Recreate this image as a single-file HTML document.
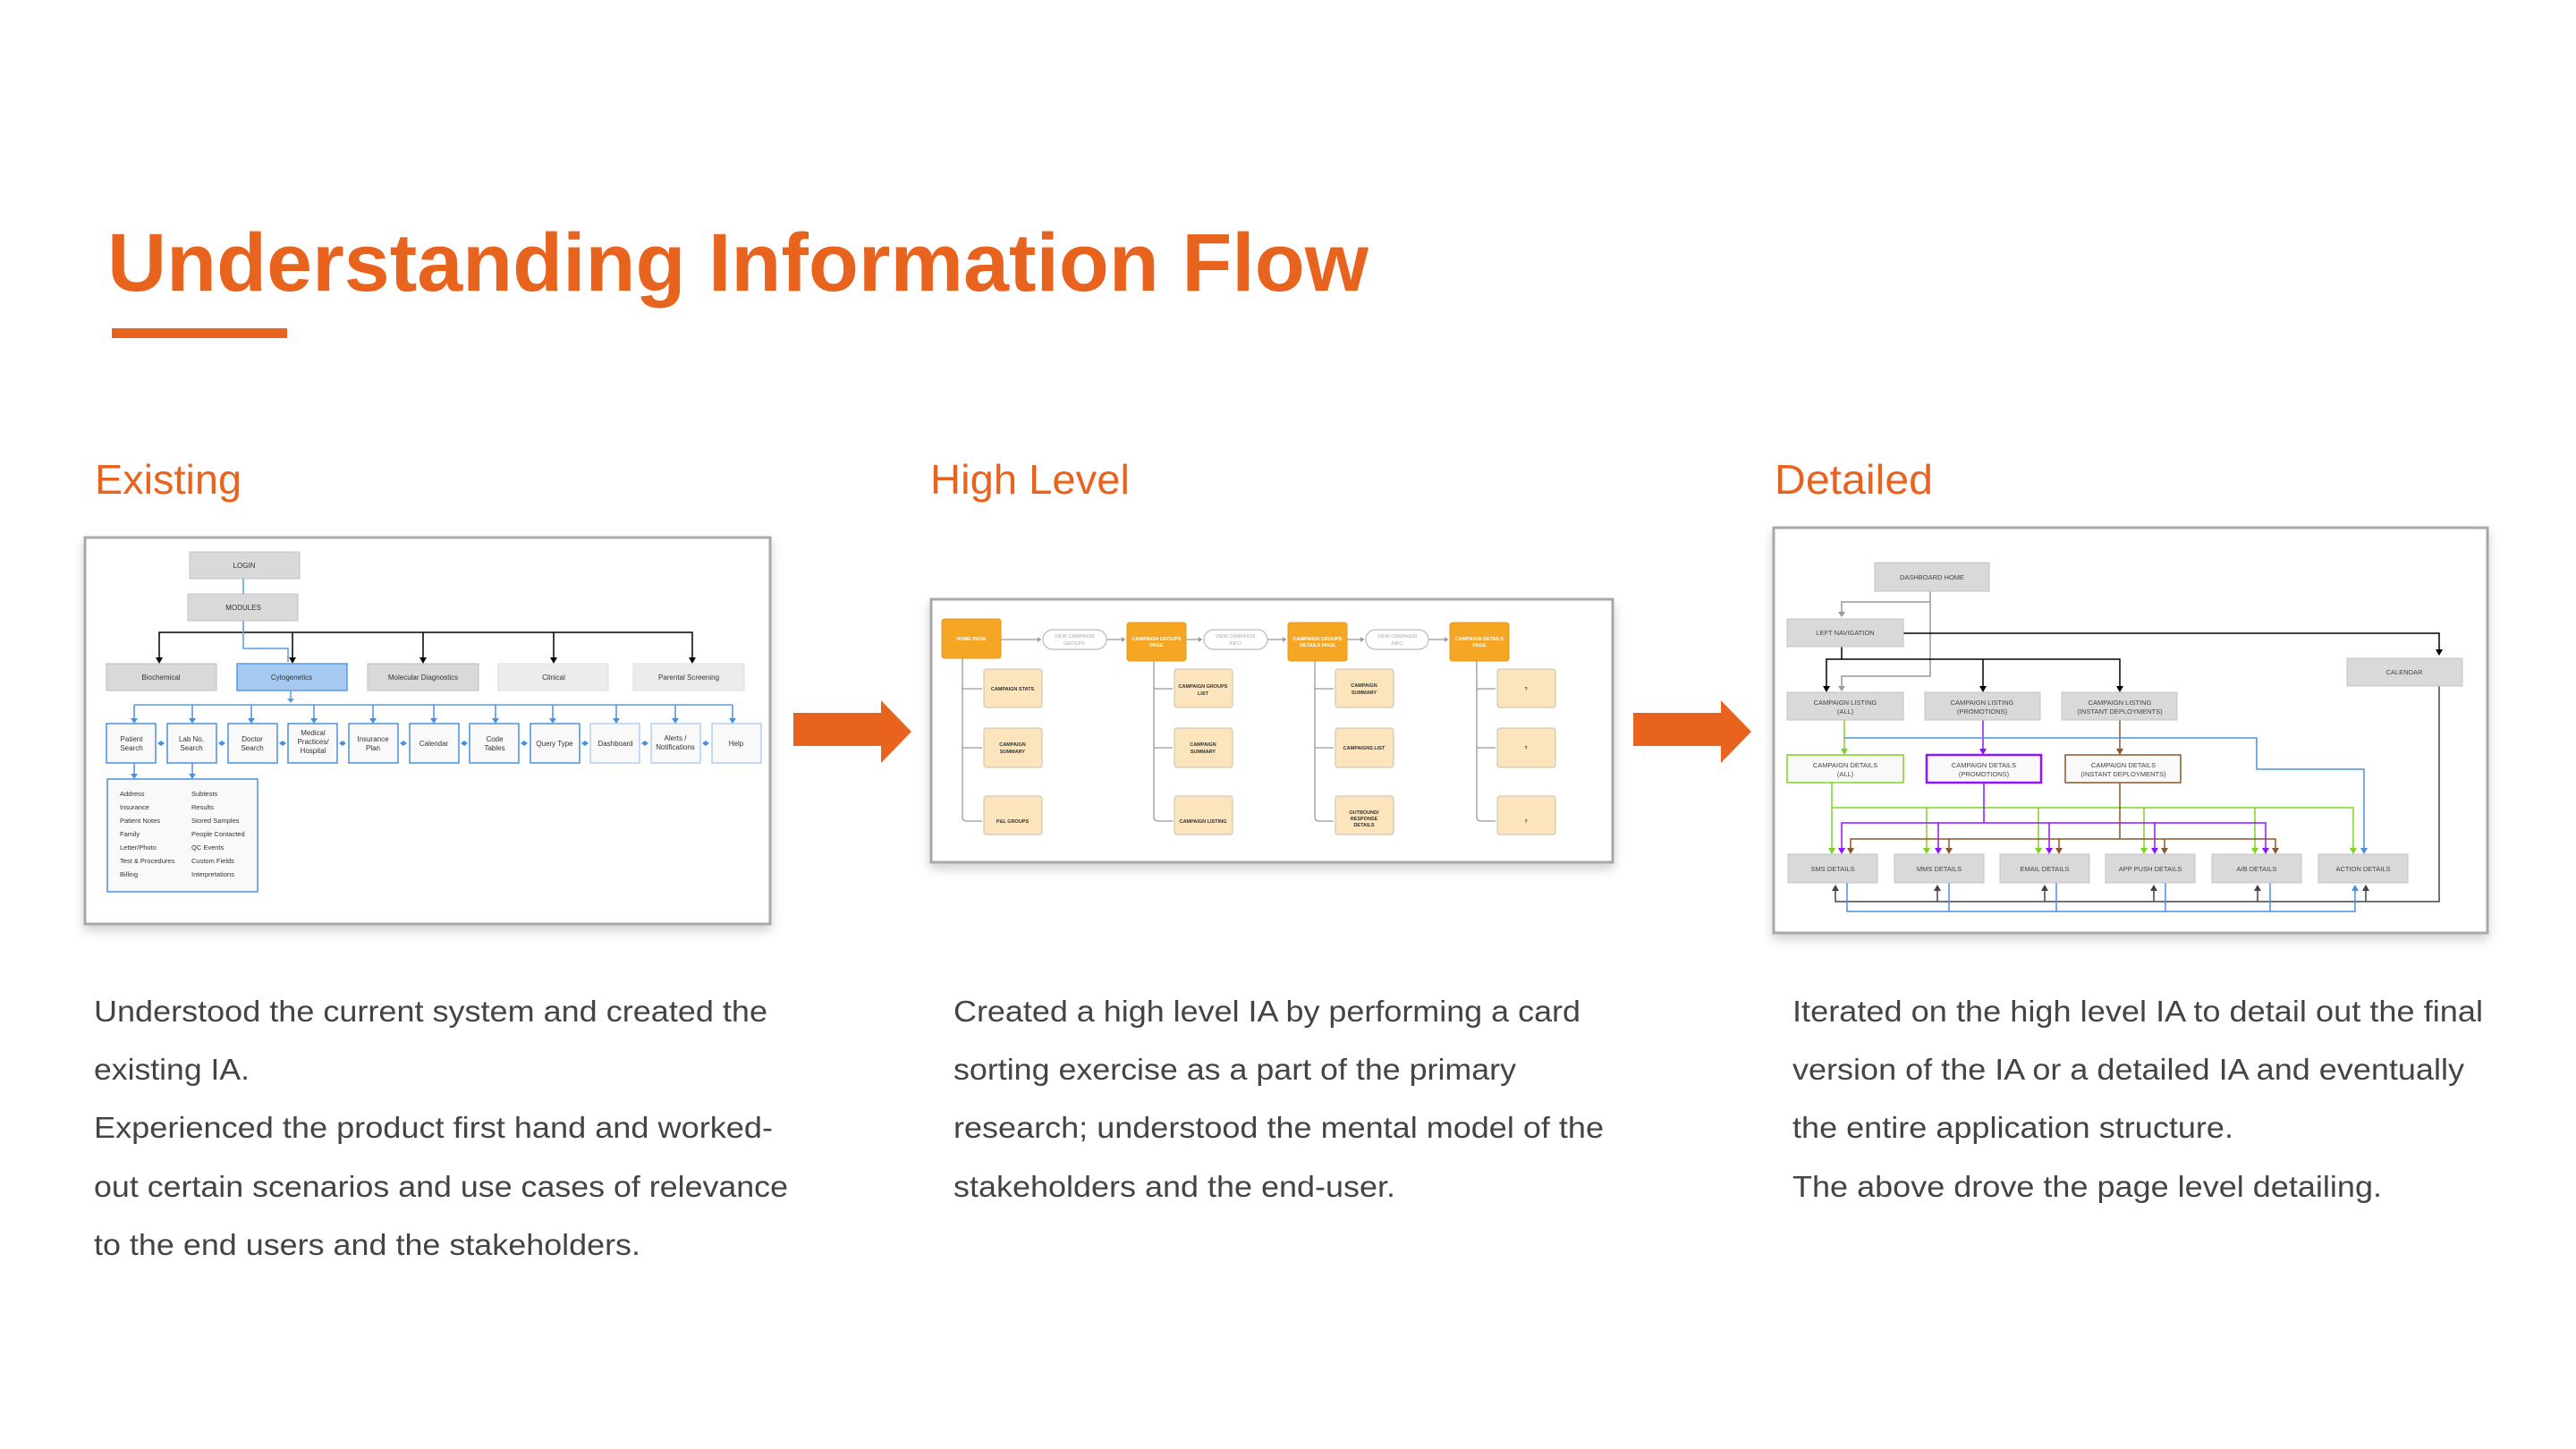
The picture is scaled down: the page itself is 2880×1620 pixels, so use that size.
<!DOCTYPE html>
<html><head><meta charset="utf-8"><style>
html,body{margin:0;padding:0;background:#fff;width:2880px;height:1620px;overflow:hidden}
svg{display:block}
.t{font-family:"Liberation Sans",sans-serif}
</style></head><body>
<svg width="2880" height="1620" viewBox="0 0 2880 1620" xmlns="http://www.w3.org/2000/svg" class="t">
<defs>
<filter id="sh" x="-5%" y="-5%" width="110%" height="115%"><feDropShadow dx="0" dy="6" stdDeviation="6" flood-color="#000" flood-opacity="0.18"/></filter>
</defs>

<text x="120" y="325" font-size="92" font-weight="bold" fill="#E8631E" textLength="1410" lengthAdjust="spacingAndGlyphs">Understanding Information Flow</text>
<rect x="125" y="367" width="196" height="11" fill="#E8631E"/>

<text x="106" y="552" font-size="46" fill="#E8631E" textLength="164" lengthAdjust="spacingAndGlyphs">Existing</text>
<text x="1040" y="552" font-size="46" fill="#E8631E" textLength="223" lengthAdjust="spacingAndGlyphs">High Level</text>
<text x="1984" y="552" font-size="46" fill="#E8631E" textLength="177" lengthAdjust="spacingAndGlyphs">Detailed</text>

<g font-size="33" fill="#444" transform="translate(0,-4)">
<text x="105" y="1146" textLength="753" lengthAdjust="spacingAndGlyphs">Understood the current system and created the</text>
<text x="105" y="1211" textLength="174" lengthAdjust="spacingAndGlyphs">existing IA.</text>
<text x="105" y="1276" textLength="759" lengthAdjust="spacingAndGlyphs">Experienced the product first hand and worked-</text>
<text x="105" y="1342" textLength="776" lengthAdjust="spacingAndGlyphs">out certain scenarios and use cases of relevance</text>
<text x="105" y="1407" textLength="611" lengthAdjust="spacingAndGlyphs">to the end users and the stakeholders.</text>
<text x="1066" y="1146" textLength="701" lengthAdjust="spacingAndGlyphs">Created a high level IA by performing a card</text>
<text x="1066" y="1211" textLength="629" lengthAdjust="spacingAndGlyphs">sorting exercise as a part of the primary</text>
<text x="1066" y="1276" textLength="727" lengthAdjust="spacingAndGlyphs">research; understood the mental model of the</text>
<text x="1066" y="1342" textLength="494" lengthAdjust="spacingAndGlyphs">stakeholders and the end-user.</text>
<text x="2004" y="1146" textLength="772" lengthAdjust="spacingAndGlyphs">Iterated on the high level IA to detail out the final</text>
<text x="2004" y="1211" textLength="751" lengthAdjust="spacingAndGlyphs">version of the IA or a detailed IA and eventually</text>
<text x="2004" y="1276" textLength="493" lengthAdjust="spacingAndGlyphs">the entire application structure.</text>
<text x="2004" y="1342" textLength="659" lengthAdjust="spacingAndGlyphs">The above drove the page level detailing.</text>
</g>

<path d="M887,797 L985,797 L985,783 L1019,818 L985,853 L985,834 L887,834 Z" fill="#E8631E"/>
<path d="M1826,797 L1924,797 L1924,783 L1958,818 L1924,853 L1924,834 L1826,834 Z" fill="#E8631E"/>

<!-- ===== EXISTING ===== -->
<rect x="95" y="601" width="766" height="432" fill="#fff" stroke="#a9a9a9" stroke-width="3" filter="url(#sh)"/>
<g font-size="8" text-anchor="middle" fill="#333">
<rect x="212" y="617" width="123" height="30" fill="#d9d9d9" stroke="#c4c4c4"/><text x="273" y="635">LOGIN</text>
<rect x="210" y="664" width="123" height="30" fill="#d9d9d9" stroke="#c4c4c4"/><text x="272" y="682">MODULES</text>
<line x1="272" y1="647" x2="272" y2="664" stroke="#5b9be6" stroke-width="1.5"/>
<path d="M178,736 V707 H774 V736" fill="none" stroke="#000" stroke-width="1.5"/>
<g stroke="#000" stroke-width="1.5"><line x1="327" y1="707" x2="327" y2="736"/><line x1="473" y1="707" x2="473" y2="736"/><line x1="619" y1="707" x2="619" y2="736"/></g>
<g fill="#000"><path d="M174,735 h8 l-4,7z"/><path d="M323,735 h8 l-4,7z"/><path d="M469,735 h8 l-4,7z"/><path d="M615,735 h8 l-4,7z"/><path d="M770,735 h8 l-4,7z"/></g>
<path d="M272,694 V725 H322 V740" fill="none" stroke="#5b9be6" stroke-width="1.5"/>
<rect x="119" y="742" width="123" height="30" fill="#d9d9d9" stroke="#bdbdbd"/><text x="180" y="760">Biochemical</text>
<rect x="265" y="742" width="123" height="30" fill="#a5c9f0" stroke="#5b9be6" stroke-width="1.5"/><text x="326" y="760">Cytogenetics</text>
<rect x="411" y="742" width="124" height="30" fill="#d9d9d9" stroke="#bdbdbd"/><text x="473" y="760">Molecular Diagnostics</text>
<rect x="557" y="742" width="123" height="30" fill="#ececec" stroke="#dcdcdc"/><text x="619" y="760">Clinical</text>
<rect x="708" y="742" width="124" height="30" fill="#ececec" stroke="#dcdcdc"/><text x="770" y="760">Parental Screening</text>
<line x1="325" y1="772" x2="325" y2="783" stroke="#5b9be6" stroke-width="1.5"/><path d="M321,781 h8 l-4,5z" fill="#5b9be6"/>
<line x1="150" y1="788" x2="819" y2="788" stroke="#5b9be6" stroke-width="1.5"/>
</g>
<g font-size="8" text-anchor="middle" fill="#333">
<g stroke="#4a90e2" stroke-width="1.5" fill="#f9f9f9">
<rect x="119" y="809" width="55" height="44"/><rect x="187" y="809" width="55" height="44"/><rect x="255" y="809" width="55" height="44"/><rect x="322" y="809" width="55" height="44"/><rect x="390" y="809" width="55" height="44"/><rect x="458" y="809" width="55" height="44"/><rect x="525" y="809" width="55" height="44"/><rect x="593" y="809" width="55" height="44"/>
</g>
<g stroke="#b3d0f2" stroke-width="1.5" fill="#f9f9f9">
<rect x="660" y="809" width="55" height="44"/><rect x="728" y="809" width="55" height="44"/><rect x="796" y="809" width="55" height="44"/>
</g>
<g stroke="#4a90e2" stroke-width="1.5">
<line x1="150" y1="788" x2="150" y2="804"/><line x1="215" y1="788" x2="215" y2="804"/><line x1="281" y1="788" x2="281" y2="804"/><line x1="351" y1="788" x2="351" y2="804"/><line x1="417" y1="788" x2="417" y2="804"/><line x1="485" y1="788" x2="485" y2="804"/><line x1="554" y1="788" x2="554" y2="804"/><line x1="618" y1="788" x2="618" y2="804"/><line x1="689" y1="788" x2="689" y2="804"/><line x1="755" y1="788" x2="755" y2="804"/><line x1="819" y1="788" x2="819" y2="804"/>
<line x1="150" y1="853" x2="150" y2="866"/><line x1="215" y1="853" x2="215" y2="866"/>
</g>
<g fill="#4a90e2">
<path d="M146,803 h8 l-4,6z"/><path d="M211,803 h8 l-4,6z"/><path d="M277,803 h8 l-4,6z"/><path d="M347,803 h8 l-4,6z"/><path d="M413,803 h8 l-4,6z"/><path d="M481,803 h8 l-4,6z"/><path d="M550,803 h8 l-4,6z"/><path d="M614,803 h8 l-4,6z"/><path d="M685,803 h8 l-4,6z"/><path d="M751,803 h8 l-4,6z"/><path d="M815,803 h8 l-4,6z"/>
<path d="M146,865 h8 l-4,6z"/><path d="M211,865 h8 l-4,6z"/>
<path d="M176,831 l4,-3 l4,3 l-4,3z"/><path d="M244,831 l4,-3 l4,3 l-4,3z"/><path d="M312,831 l4,-3 l4,3 l-4,3z"/><path d="M379,831 l4,-3 l4,3 l-4,3z"/><path d="M447,831 l4,-3 l4,3 l-4,3z"/><path d="M515,831 l4,-3 l4,3 l-4,3z"/><path d="M582,831 l4,-3 l4,3 l-4,3z"/><path d="M650,831 l4,-3 l4,3 l-4,3z"/><path d="M717,831 l4,-3 l4,3 l-4,3z"/><path d="M785,831 l4,-3 l4,3 l-4,3z"/>
</g>
<text x="147" y="829">Patient</text><text x="147" y="839">Search</text>
<text x="214" y="829">Lab No.</text><text x="214" y="839">Search</text>
<text x="282" y="829">Doctor</text><text x="282" y="839">Search</text>
<text x="350" y="822">Medical</text><text x="350" y="832">Practices/</text><text x="350" y="842">Hospital</text>
<text x="417" y="829">Insurance</text><text x="417" y="839">Plan</text>
<text x="485" y="834">Calendar</text>
<text x="553" y="829">Code</text><text x="553" y="839">Tables</text>
<text x="620" y="834">Query Type</text>
<text x="688" y="834">Dashboard</text>
<text x="755" y="828">Alerts /</text><text x="755" y="838">Notifications</text>
<text x="823" y="834">Help</text>
</g>
<rect x="120" y="871" width="168" height="126" fill="#f9f9f9" stroke="#4a90e2" stroke-width="1.5"/>
<g font-size="7.5" fill="#333">
<text x="134" y="890">Address</text><text x="134" y="905">Insurance</text><text x="134" y="920">Patient Notes</text><text x="134" y="935">Family</text><text x="134" y="950">Letter/Photo</text><text x="134" y="965">Test &amp; Procedures</text><text x="134" y="980">Billing</text>
<text x="214" y="890">Subtests</text><text x="214" y="905">Results</text><text x="214" y="920">Stored Samples</text><text x="214" y="935">People Contacted</text><text x="214" y="950">QC Events</text><text x="214" y="965">Custom Fields</text><text x="214" y="980">Interpretations</text>
</g>

<!-- ===== HIGH LEVEL ===== -->
<g transform="translate(-5,0)">
<rect x="1046" y="670" width="762" height="294" fill="#fff" stroke="#a9a9a9" stroke-width="3" filter="url(#sh)"/>
<g stroke="#999" stroke-width="1.3" fill="none">
<path d="M1081,736 V913 q0,5 5,5 H1103"/><line x1="1081" y1="770" x2="1103" y2="770"/><line x1="1081" y1="836" x2="1103" y2="836"/>
<path d="M1295,739 V913 q0,5 5,5 H1316"/><line x1="1295" y1="770" x2="1316" y2="770"/><line x1="1295" y1="836" x2="1316" y2="836"/>
<path d="M1475,739 V913 q0,5 5,5 H1496"/><line x1="1475" y1="770" x2="1496" y2="770"/><line x1="1475" y1="836" x2="1496" y2="836"/>
<path d="M1656,739 V913 q0,5 5,5 H1677"/><line x1="1656" y1="770" x2="1677" y2="770"/><line x1="1656" y1="836" x2="1677" y2="836"/>
<line x1="1124" y1="715" x2="1169" y2="715"/><line x1="1242" y1="715" x2="1263" y2="715"/>
<line x1="1331" y1="715" x2="1349" y2="715"/><line x1="1422" y1="715" x2="1443" y2="715"/>
<line x1="1511" y1="715" x2="1530" y2="715"/><line x1="1602" y1="715" x2="1624" y2="715"/>
</g>
<g fill="#999">
<path d="M1165,712 l4,3 l-4,3z"/><path d="M1259,712 l4,3 l-4,3z"/><path d="M1345,712 l4,3 l-4,3z"/><path d="M1439,712 l4,3 l-4,3z"/><path d="M1526,712 l4,3 l-4,3z"/><path d="M1620,712 l4,3 l-4,3z"/>
</g>
<g fill="#F5A623" stroke="#e59a1c">
<rect x="1058" y="692" width="66" height="44" rx="3"/><rect x="1265" y="696" width="66" height="43" rx="3"/><rect x="1445" y="696" width="66" height="43" rx="3"/><rect x="1626" y="696" width="66" height="43" rx="3"/>
</g>
<g fill="#fff" stroke="#bbb" stroke-width="1.2">
<rect x="1171" y="704" width="71" height="22" rx="11"/><rect x="1351" y="704" width="71" height="22" rx="11"/><rect x="1532" y="704" width="70" height="22" rx="11"/>
</g>
<g fill="#FCE4BC" stroke="#c9c0b0" stroke-width="1">
<rect x="1105" y="748" width="65" height="43" rx="3"/><rect x="1105" y="814" width="65" height="44" rx="3"/><rect x="1105" y="890" width="65" height="43" rx="3"/>
<rect x="1318" y="748" width="65" height="43" rx="3"/><rect x="1318" y="814" width="65" height="44" rx="3"/><rect x="1318" y="890" width="65" height="43" rx="3"/>
<rect x="1498" y="748" width="65" height="43" rx="3"/><rect x="1498" y="814" width="65" height="44" rx="3"/><rect x="1498" y="890" width="65" height="43" rx="3"/>
<rect x="1679" y="748" width="65" height="43" rx="3"/><rect x="1679" y="814" width="65" height="44" rx="3"/><rect x="1679" y="890" width="65" height="43" rx="3"/>
</g>
<g font-size="5.5" font-weight="bold" text-anchor="middle" fill="#fff">
<text x="1091" y="716">HOME PAGE</text>
<text x="1298" y="716">CAMPAIGN GROUPS</text><text x="1298" y="723">PAGE</text>
<text x="1478" y="716">CAMPAIGN GROUPS</text><text x="1478" y="723">DETAILS PAGE</text>
<text x="1659" y="716">CAMPAIGN DETAILS</text><text x="1659" y="723">PAGE</text>
</g>
<g font-size="5.5" text-anchor="middle" fill="#aaa">
<text x="1206" y="713">VIEW CAMPAIGN</text><text x="1206" y="721">GROUPS</text>
<text x="1386" y="713">VIEW CAMPAIGN</text><text x="1386" y="721">INFO</text>
<text x="1567" y="713">VIEW CAMPAIGN</text><text x="1567" y="721">INFO</text>
</g>
<g font-size="5.5" font-weight="bold" text-anchor="middle" fill="#333">
<text x="1137" y="772">CAMPAIGN STATS</text>
<text x="1137" y="834">CAMPAIGN</text><text x="1137" y="842">SUMMARY</text>
<text x="1137" y="920">P&amp;L GROUPS</text>
<text x="1350" y="769">CAMPAIGN GROUPS</text><text x="1350" y="777">LIST</text>
<text x="1350" y="834">CAMPAIGN</text><text x="1350" y="842">SUMMARY</text>
<text x="1350" y="920">CAMPAIGN LISTING</text>
<text x="1530" y="768">CAMPAIGN</text><text x="1530" y="776">SUMMARY</text>
<text x="1530" y="838">CAMPAIGNS LIST</text>
<text x="1530" y="910">OUTBOUND/</text><text x="1530" y="917">RESPONSE</text><text x="1530" y="924">DETAILS</text>
<text x="1711" y="772">?</text><text x="1711" y="838">?</text><text x="1711" y="920">?</text>
</g>
</g>

<!-- ===== DETAILED ===== -->
<g transform="translate(-10,0)">
<rect x="1993" y="590" width="798" height="453" fill="#fff" stroke="#a9a9a9" stroke-width="3" filter="url(#sh)"/>
<g fill="none" stroke-width="1.5">
<path d="M2168,661 V756 H2069 V768" stroke="#999"/>
<path d="M2168,673 H2069 V684" stroke="#999"/>
<path d="M2138,708 H2737 V727" stroke="#000"/>
<path d="M2069,723 V737 M2052,768 V737 H2380 V768 M2227,737 V768" stroke="#000"/>
<path d="M2737,767 V1008 H2062 V995 M2176,1008 V995 M2296,1008 V995 M2418,1008 V995 M2534,1008 V995 M2655,1008 V995" stroke="#444"/>
<path d="M2072,805 V838" stroke="#7ed321"/>
<path d="M2227,805 V838" stroke="#9013fe"/>
<path d="M2380,805 V838" stroke="#8b572a"/>
<path d="M2072,825 H2533 V860 H2653 V948" stroke="#4a90e2"/>
<path d="M2058,875 V949 M2058,903 H2641 V949 M2164,903 V949 M2289,903 V949 M2407,903 V949 M2531,903 V949" stroke="#7ed321"/>
<path d="M2228,875 V920 M2069,949 V920 H2543 V949 M2177,920 V949 M2301,920 V949 M2419,920 V949" stroke="#9013fe"/>
<path d="M2380,875 V938 M2079,949 V938 H2554 V949 M2189,938 V949 M2312,938 V949 M2430,938 V949" stroke="#8b572a"/>
<path d="M2075,987 V1019 H2643 V995 M2189,987 V1019 M2309,987 V1019 M2431,987 V1019 M2548,987 V1019" stroke="#4a90e2"/>
</g>
<g>
<path d="M2065,684 h8 l-4,6z M2065,767 h8 l-4,6z" fill="#999"/>
<path d="M2733,726 h8 l-4,7z M2048,767 h8 l-4,7z M2223,767 h8 l-4,7z M2376,767 h8 l-4,7z" fill="#000"/>
<path d="M2068,837 h8 l-4,7z M2054,948 h8 l-4,7z M2160,948 h8 l-4,7z M2285,948 h8 l-4,7z M2403,948 h8 l-4,7z M2527,948 h8 l-4,7z M2637,948 h8 l-4,7z" fill="#7ed321"/>
<path d="M2223,837 h8 l-4,7z M2065,948 h8 l-4,7z M2173,948 h8 l-4,7z M2297,948 h8 l-4,7z M2415,948 h8 l-4,7z M2539,948 h8 l-4,7z" fill="#9013fe"/>
<path d="M2376,837 h8 l-4,7z M2075,948 h8 l-4,7z M2185,948 h8 l-4,7z M2308,948 h8 l-4,7z M2426,948 h8 l-4,7z M2550,948 h8 l-4,7z" fill="#8b572a"/>
<path d="M2649,948 h8 l-4,7z M2639,996 h8 l-4,-7z" fill="#4a90e2"/>
<path d="M2058,996 h8 l-4,-7z M2172,996 h8 l-4,-7z M2292,996 h8 l-4,-7z M2414,996 h8 l-4,-7z M2530,996 h8 l-4,-7z M2651,996 h8 l-4,-7z" fill="#444"/>
</g>
<g fill="#d9d9d9" stroke="#c4c4c4">
<rect x="2106" y="629" width="128" height="32"/><rect x="2008" y="692" width="130" height="31"/><rect x="2634" y="736" width="129" height="31"/>
<rect x="2008" y="774" width="130" height="31"/><rect x="2162" y="774" width="129" height="31"/><rect x="2315" y="774" width="129" height="31"/>
<rect x="2009" y="955" width="100" height="32"/><rect x="2128" y="955" width="100" height="32"/><rect x="2246" y="955" width="100" height="32"/><rect x="2364" y="955" width="100" height="32"/><rect x="2483" y="955" width="100" height="32"/><rect x="2602" y="955" width="100" height="32"/>
</g>
<rect x="2008" y="844" width="130" height="31" fill="#f9f9f9" stroke="#7ed321" stroke-width="1.5"/>
<rect x="2164" y="844" width="128" height="31" fill="#f9f9f9" stroke="#9013fe" stroke-width="2.5"/>
<rect x="2319" y="844" width="129" height="31" fill="#f9f9f9" stroke="#8b572a" stroke-width="1.5"/>
<g font-size="7.5" text-anchor="middle" fill="#444">
<text x="2170" y="648">DASHBOARD HOME</text>
<text x="2073" y="710">LEFT NAVIGATION</text>
<text x="2698" y="754">CALENDAR</text>
<text x="2073" y="788">CAMPAIGN LISTING</text><text x="2073" y="798">(ALL)</text>
<text x="2226" y="788">CAMPAIGN LISTING</text><text x="2226" y="798">(PROMOTIONS)</text>
<text x="2380" y="788">CAMPAIGN LISTING</text><text x="2380" y="798">(INSTANT DEPLOYMENTS)</text>
<text x="2073" y="858">CAMPAIGN DETAILS</text><text x="2073" y="868">(ALL)</text>
<text x="2228" y="858">CAMPAIGN DETAILS</text><text x="2228" y="868">(PROMOTIONS)</text>
<text x="2384" y="858">CAMPAIGN DETAILS</text><text x="2384" y="868">(INSTANT DEPLOYMENTS)</text>
<text x="2059" y="974">SMS DETAILS</text><text x="2178" y="974">MMS DETAILS</text><text x="2296" y="974">EMAIL DETAILS</text><text x="2414" y="974">APP PUSH DETAILS</text><text x="2533" y="974">A/B DETAILS</text><text x="2652" y="974">ACTION DETAILS</text>
</g>
</g>
</svg>
</body></html>
